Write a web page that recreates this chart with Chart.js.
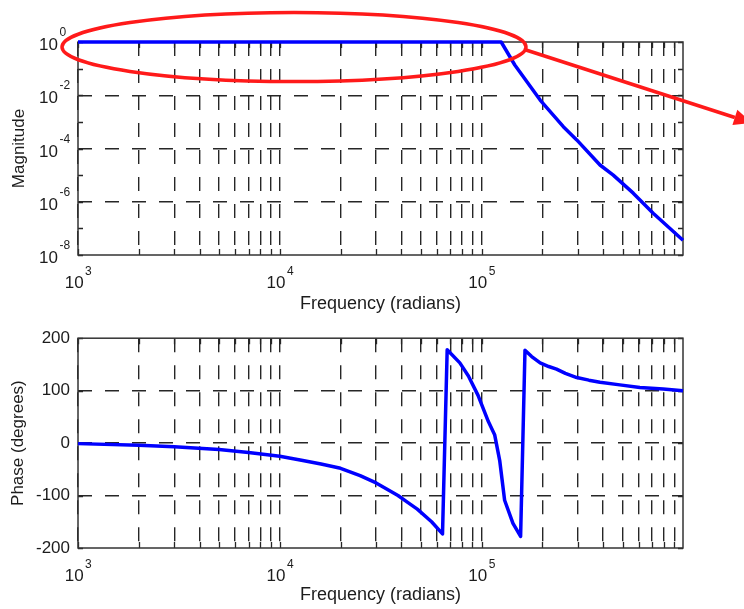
<!DOCTYPE html>
<html>
<head>
<meta charset="utf-8">
<title>Bode plot</title>
<script src="https://cdn.jsdelivr.net/npm/chart.js@4.4.1/dist/chart.umd.min.js"></script>
<style>
  body { margin: 0; background: #fff; }
  #wrap { position: relative; width: 744px; height: 609px; }
  canvas { position: absolute; left: 0; }
  #magChart { top: 0; }
  #phaseChart { top: 320px; }
</style>
</head>
<body>
<div id="wrap">
  <canvas id="magChart" width="744" height="320"></canvas>
  <canvas id="phaseChart" width="744" height="289"></canvas>
</div>
<script>
// Frequency response (frequency in rad/s)
const magFreq   = [1e3, 1.25e5, 1.46e5, 1.95e5, 2.54e5, 2.96e5, 3.86e5, 4.49e5, 5.64e5, 7.08e5, 9.95e5];
const magValues = [1, 1, 0.137, 6.6e-3, 6.6e-4, 2.1e-4, 2.4e-5, 1.0e-5, 2.1e-6, 3.7e-7, 3.6e-8];

const phaseFreq   = [1e3, 2e3, 3e3, 5e3, 7e3, 1e4, 1.3e4, 1.6e4, 2e4, 2.5e4, 3e4, 3.4e4, 3.85e4, 4.3e4,
                     4.8e4, 5.65e4, 6.4e4,
                     6.75e4, 7.8e4, 8.6e4, 9.6e4, 1.08e5, 1.16e5, 1.23e5, 1.3e5, 1.43e5, 1.56e5,
                     1.64e5, 1.77e5, 1.95e5, 2.15e5, 2.35e5, 2.6e5, 2.96e5, 3.4e5, 3.86e5, 4.84e5,
                     6.08e5, 7.94e5, 9.95e5];
const phaseValues = [-1, -4, -7, -12, -18, -25, -33, -40, -48, -62, -76, -88, -100, -113,
                     -126, -150, -173,
                     178, 153, 128, 91, 41, 16, -34, -109, -153, -178,
                     177, 165, 153, 146, 141, 133, 125, 120, 116, 111,
                     106, 103, 100];

// Axis limits and labelled ticks
const freqMin = 1e3, freqMax = 9.95e5;
const freqLabelExps = [3, 4, 5];
const magMin = 1e-8, magMax = 1;
const magLabelExps = [0, -2, -4, -6, -8];
const phaseTicks = [-200, -100, 0, 100, 200];

const FONT = '"Liberation Sans", Arial, Helvetica, sans-serif';
const INK = '#1c1c1c';
const GRID = '#262626';

// grid positions: 1..9 x 10^k across the frequency range
const freqGrid = [];
for (let e = 3; e <= 5; e++) {
  for (let m = 1; m <= 9; m++) {
    const v = m * Math.pow(10, e);
    if (v >= freqMin && v <= freqMax) freqGrid.push(v);
  }
}
const magGrid = [];
for (let e = 0; e >= -8; e--) magGrid.push(Math.pow(10, e));

// "10" with a raised exponent
function drawPower(ctx, exp, x, y, mode) {
  ctx.font = '17px ' + FONT;
  const wb = ctx.measureText('10').width;
  ctx.font = '12px ' + FONT;
  const we = ctx.measureText(String(exp)).width;
  let bx;
  if (mode === 'left') {
    bx = x - 20 - wb;              // y axis: "10" ends 20px left of axis
  } else {
    bx = x - (wb + 1 + we) / 2;    // x axis: whole label centred on tick
  }
  ctx.textAlign = 'left';
  ctx.textBaseline = 'alphabetic';
  ctx.fillStyle = INK;
  ctx.font = '17px ' + FONT;
  ctx.fillText('10', bx, mode === 'left' ? y + 8 : y + 32.5);
  ctx.font = '12px ' + FONT;
  ctx.fillText(String(exp), bx + wb + 1.5, mode === 'left' ? y - 6 : y + 20);
}

// box, inward tick marks, power-of-ten labels
const framePlugin = {
  id: 'frame',
  beforeDatasetsDraw(chart) {
    const {ctx, chartArea: a, scales: {x, y}} = chart;
    ctx.save();
    ctx.strokeStyle = GRID;
    ctx.lineWidth = 1.3;
    ctx.beginPath();
    x.ticks.forEach(t => {
      const px = Math.round(x.getPixelForValue(t.value)) + 0.5;
      ctx.moveTo(px, a.bottom); ctx.lineTo(px, a.bottom - 6);
      ctx.moveTo(px, a.top); ctx.lineTo(px, a.top + 6);
    });
    y.ticks.forEach(t => {
      const py = Math.round(y.getPixelForValue(t.value)) + 0.5;
      ctx.moveTo(a.left, py); ctx.lineTo(a.left + 5, py);
      ctx.moveTo(a.right, py); ctx.lineTo(a.right - 5, py);
    });
    ctx.stroke();
    ctx.lineWidth = 1.5;
    ctx.strokeStyle = '#333';
    ctx.strokeRect(a.left, a.top, a.right - a.left, a.bottom - a.top);
    ctx.restore();
  },
  afterDraw(chart, args, opts) {
    const {ctx, chartArea: a, scales: {x, y}} = chart;
    ctx.save();
    freqLabelExps.forEach(e => drawPower(ctx, e, x.getPixelForValue(Math.pow(10, e)), a.bottom, 'bottom'));
    if (opts.yPowers) {
      opts.yPowers.forEach(e => drawPower(ctx, e, a.left, y.getPixelForValue(Math.pow(10, e)), 'left'));
    }
    if (opts.callout) {
      const c = opts.callout;
      ctx.strokeStyle = c.color;
      ctx.fillStyle = c.color;
      ctx.lineWidth = 3.5;
      ctx.beginPath();
      ctx.ellipse(c.cx, c.cy, c.rx, c.ry, 0, 0, Math.PI * 2);
      ctx.stroke();
      // arrow
      const [x0, y0] = c.from, [x1, y1] = c.to;
      const ang = Math.atan2(y1 - y0, x1 - x0);
      const hl = 18, hw = 8;
      const bx = x1 - hl * Math.cos(ang), by = y1 - hl * Math.sin(ang);
      ctx.beginPath();
      ctx.moveTo(x0, y0);
      ctx.lineTo(bx, by);
      ctx.stroke();
      ctx.beginPath();
      ctx.moveTo(x1, y1);
      ctx.lineTo(bx + hw * Math.sin(ang), by - hw * Math.cos(ang));
      ctx.lineTo(bx - hw * Math.sin(ang), by + hw * Math.cos(ang));
      ctx.closePath();
      ctx.fill();
    }
    ctx.restore();
  }
};

function freqAxis(height, titlePad) {
  return {
    type: 'logarithmic',
    min: freqMin,
    max: freqMax,
    afterBuildTicks: s => { s.ticks = freqGrid.map(v => ({value: v})); },
    afterFit: s => { s.height = height; },
    ticks: { display: false },
    grid: { color: GRID, lineWidth: 1.4, drawTicks: false },
    border: { display: false, dash: [14, 13] },
    title: {
      display: true,
      text: 'Frequency (radians)',
      color: INK,
      font: { family: FONT, size: 18 },
      padding: { top: 0, bottom: titlePad }
    }
  };
}

function lineSet(xs, ys) {
  return {
    data: xs.map((f, i) => ({x: f, y: ys[i]})),
    borderColor: '#0000ff',
    borderWidth: 3.5,
    borderJoinStyle: 'round',
    pointRadius: 0,
    tension: 0,
    fill: false,
    clip: false
  };
}

const common = {
  responsive: false,
  animation: false,
  devicePixelRatio: 1,
  plugins: { legend: { display: false }, tooltip: { enabled: false } }
};

// Magnitude
new Chart(document.getElementById('magChart').getContext('2d'), {
  type: 'line',
  data: { datasets: [lineSet(magFreq, magValues)] },
  plugins: [framePlugin],
  options: {
    ...common,
    layout: { padding: { top: 42, right: 61, left: 0, bottom: 0 } },
    scales: {
      x: freqAxis(65, 5),
      y: {
        type: 'logarithmic',
        min: magMin,
        max: magMax,
        afterBuildTicks: s => { s.ticks = magGrid.map(v => ({value: v})); },
        afterFit: s => { s.width = 78; },
        ticks: { display: false },
        grid: {
          drawTicks: false,
          lineWidth: 1.4,
          color: c => {
            const e = Math.round(Math.log10(c.tick.value));
            return (e % 2 !== 0 || e === 0 || e === -8) ? 'rgba(0,0,0,0)' : GRID;
          }
        },
        border: { display: false, dash: [14, 13] },
        title: {
          display: true,
          text: 'Magnitude',
          color: INK,
          font: { family: FONT, size: 17 },
          padding: { top: 9, bottom: 0 }
        }
      }
    },
    plugins: {
      ...common.plugins,
      frame: {
        yPowers: magLabelExps,
        callout: { color: '#ff1a1a', cx: 294, cy: 47, rx: 232, ry: 34.5, from: [526, 50], to: [752, 123] }
      }
    }
  }
});

// Phase
new Chart(document.getElementById('phaseChart').getContext('2d'), {
  type: 'line',
  data: { datasets: [lineSet(phaseFreq, phaseValues)] },
  plugins: [framePlugin],
  options: {
    ...common,
    layout: { padding: { top: 15, right: 61, left: 0, bottom: 0 } },
    scales: {
      x: freqAxis(61, 3.5),
      y: {
        type: 'linear',
        min: -200,
        max: 200,
        afterBuildTicks: s => { s.ticks = phaseTicks.map(v => ({value: v})); },
        afterFit: s => { s.width = 78; },
        ticks: {
          color: INK,
          font: { family: FONT, size: 17 },
          padding: 8,
          callback: v => String(v)
        },
        grid: {
          drawTicks: false,
          lineWidth: 1.4,
          color: c => (Math.abs(c.tick.value) === 200 ? 'rgba(0,0,0,0)' : GRID)
        },
        border: { display: false, dash: [14, 13] },
        title: {
          display: true,
          text: 'Phase (degrees)',
          color: INK,
          font: { family: FONT, size: 17 },
          padding: { top: 8, bottom: 0 }
        }
      }
    },
    plugins: {
      ...common.plugins,
      frame: {}
    }
  }
});
</script>
</body>
</html>
